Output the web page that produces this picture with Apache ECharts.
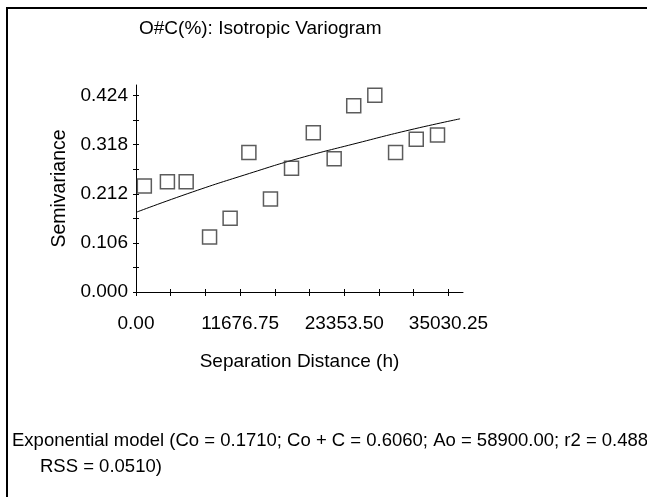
<!DOCTYPE html>
<html>
<head>
<meta charset="utf-8">
<script src="https://cdn.jsdelivr.net/npm/echarts@6/dist/echarts.min.js"></script>
<style>html,body{margin:0;padding:0;background:#fff;}#c{width:647px;height:497px;}</style>
</head>
<body>
<div id="c"></div>
<script>
// Experimental semivariance points (separation distance h, semivariance)
const lagDistance = [934, 3521, 5625, 8246, 10552, 12655, 15074, 17436, 19877, 22217, 24410, 26773, 29101, 31419, 33803];
const semivariance = [0.229, 0.238, 0.238, 0.119, 0.159, 0.301, 0.201, 0.267, 0.344, 0.288, 0.402, 0.425, 0.301, 0.330, 0.339];
// Fitted exponential model curve
const modelDistance = [0, 6333, 12711, 18336, 24894, 30710, 36334];
const modelValue = [0.172, 0.216, 0.256, 0.289, 0.322, 0.350, 0.374];
// Tick labels / tick positions
const xLabelValues = [0, 11676.75, 23353.5, 35030.25];
const xTickValues = [0, 3892.25, 7784.5, 11676.75, 15569, 19461.25, 23353.5, 27245.75, 31138, 35030.25];
const yLabelValues = [0, 0.106, 0.212, 0.318, 0.424];
const yTickValues = [0, 0.053, 0.106, 0.159, 0.212, 0.265, 0.318, 0.371, 0.424];

const FONT = '"Liberation Sans", Arial, sans-serif';
const FS = 19;
const FS_NOTE = 18.5;
const X_MAX = 36660, Y_MAX = 0.447;

const chart = echarts.init(document.getElementById('c'));
const baseX = {
  type: 'value', min: 0, max: X_MAX, position: 'bottom',
  splitLine: { show: false }
};
const baseY = {
  type: 'value', min: 0, max: Y_MAX, position: 'left',
  splitLine: { show: false }
};
chart.setOption({
  animation: false,
  backgroundColor: '#fff',
  grid: { left: 136, right: 184, top: 85, bottom: 205 },
  title: {
    text: 'O#C(%): Isotropic Variogram',
    left: 139, top: 19, padding: 0,
    textStyle: { fontFamily: FONT, fontSize: FS, fontWeight: 'normal', color: '#000' }
  },
  xAxis: [
    Object.assign({}, baseX, {
      name: 'Separation Distance (h)', nameLocation: 'middle', nameGap: 60,
      nameTextStyle: { fontFamily: FONT, fontSize: FS, color: '#000' },
      axisLine: { onZero: false, lineStyle: { color: '#000', width: 1 } },
      axisTick: { show: true, length: 4, inside: false, customValues: xTickValues, lineStyle: { color: '#000' } },
      axisLabel: { customValues: xLabelValues, margin: 22, fontFamily: FONT, fontSize: FS, color: '#000',
        formatter: v => v.toFixed(2) }
    }),
    Object.assign({}, baseX, {
      axisLine: { show: false, onZero: false },
      axisTick: { show: true, length: 3, inside: true, customValues: xTickValues, lineStyle: { color: '#000' } },
      axisLabel: { show: false }
    })
  ],
  yAxis: [
    Object.assign({}, baseY, {
      name: 'Semivariance', nameLocation: 'middle', nameGap: 66, nameRotate: 90,
      nameTextStyle: { fontFamily: FONT, fontSize: 19.5, color: '#000' },
      axisLine: { onZero: false, lineStyle: { color: '#000', width: 1 } },
      axisTick: { show: true, length: 3, inside: false, customValues: yTickValues, lineStyle: { color: '#000' } },
      axisLabel: { customValues: yLabelValues, margin: 8, fontFamily: FONT, fontSize: FS, color: '#000',
        formatter: v => v.toFixed(3) }
    }),
    Object.assign({}, baseY, {
      axisLine: { show: false, onZero: false },
      axisTick: { show: true, length: 3, inside: true, customValues: yTickValues, lineStyle: { color: '#000' } },
      axisLabel: { show: false }
    })
  ],
  series: [
    {
      type: 'line', xAxisIndex: 0, yAxisIndex: 0,
      data: modelDistance.map((d, i) => [d, modelValue[i]]),
      smooth: true, showSymbol: false, symbol: 'none',
      lineStyle: { color: '#000', width: 1 }, silent: true, z: 2
    },
    {
      type: 'scatter', xAxisIndex: 0, yAxisIndex: 0,
      data: lagDistance.map((d, i) => [d, semivariance[i]]),
      symbol: 'rect', symbolSize: 14,
      itemStyle: { color: 'rgba(0,0,0,0)', borderColor: '#333', borderWidth: 1.5 },
      z: 3
    }
  ],
  graphic: [
    { type: 'rect', shape: { x: 7, y: 8, width: 700, height: 600 },
      style: { fill: 'none', stroke: '#000', lineWidth: 2 }, silent: true },
    { type: 'text', left: 12, top: 431,
      style: { text: 'Exponential model (Co = 0.1710; Co + C = 0.6060; Ao = 58900.00; r2 = 0.488',
        font: FS_NOTE + 'px ' + FONT, fill: '#000' } },
    { type: 'text', left: 40, top: 457,
      style: { text: 'RSS = 0.0510)', font: FS_NOTE + 'px ' + FONT, fill: '#000' } }
  ]
});
</script>
</body>
</html>
